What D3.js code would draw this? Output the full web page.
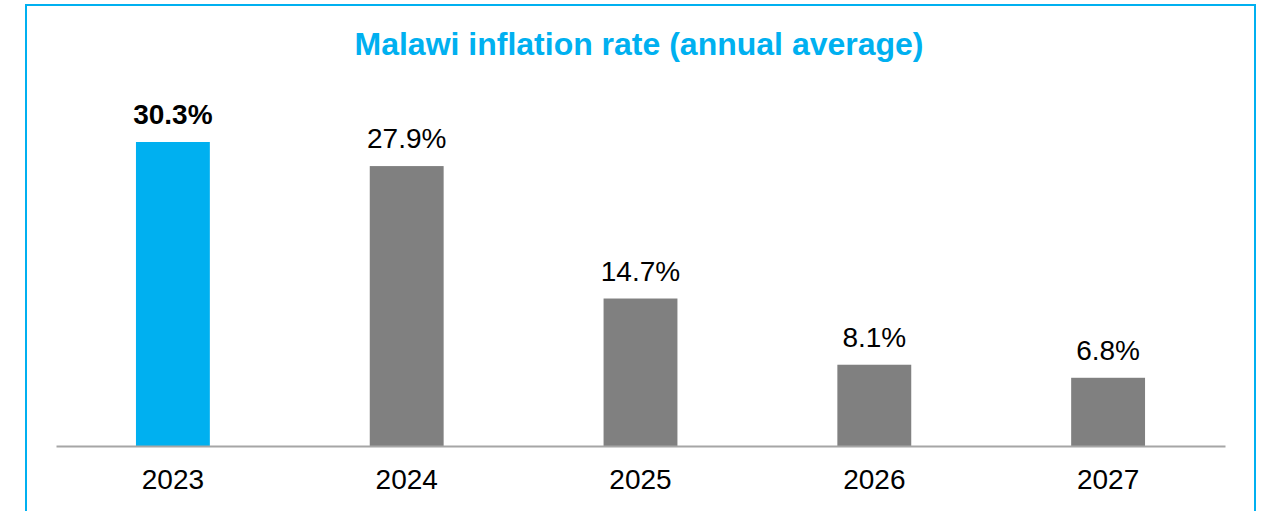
<!DOCTYPE html>
<html>
<head>
<meta charset="utf-8">
<script src="https://cdn.jsdelivr.net/npm/d3@7"></script>
<style>
  body { margin: 0; background: #fff; }
  svg { display: block; font-family: Arial, "Liberation Sans", sans-serif; }
</style>
</head>
<body>
<div id="chart"></div>
<script>
// chart data
var years = ['2023', '2024', '2025', '2026', '2027'];
var rates = [30.3, 27.9, 14.7, 8.1, 6.8];
var highlight = ['2023'];

var width = 1264, height = 511;
var axisY = 446;

var svg = d3.select('#chart').append('svg')
    .attr('width', width)
    .attr('height', height);

// outer frame (runs off the bottom of the picture)
svg.append('rect')
    .attr('x', 26).attr('y', 5)
    .attr('width', 1229).attr('height', 530)
    .attr('fill', 'none')
    .attr('stroke', '#00B0F0')
    .attr('stroke-width', 2);

svg.append('text')
    .attr('x', 639).attr('y', 55)
    .attr('text-anchor', 'middle')
    .attr('fill', '#00B0F0')
    .style('font-size', '32px')
    .style('font-weight', 'bold')
    .text('Malawi inflation rate (annual average)');

var x = d3.scaleBand()
    .domain(years)
    .range([56, 1225])
    .paddingInner(0.684)
    .paddingOuter(0.342);

var y = d3.scaleLinear()
    .domain([0, 30.3])
    .range([axisY, 142]);

var data = years.map(function(d, i) { return {year: d, value: rates[i]}; });

svg.selectAll('rect.bar')
    .data(data)
    .enter().append('rect')
        .attr('class', 'bar')
        .attr('x', function(d) { return x(d.year); })
        .attr('y', function(d) { return y(d.value); })
        .attr('width', x.bandwidth())
        .attr('height', function(d) { return axisY - y(d.value); })
        .attr('fill', function(d) { return highlight.indexOf(d.year) >= 0 ? '#00B0F0' : '#808080'; });

svg.selectAll('text.val')
    .data(data)
    .enter().append('text')
        .attr('class', 'val')
        .attr('x', function(d) { return x(d.year) + x.bandwidth() / 2; })
        .attr('y', function(d) { return y(d.value) - 18; })
        .attr('text-anchor', 'middle')
        .attr('fill', '#000')
        .style('font-size', '28px')
        .style('font-weight', function(d) { return highlight.indexOf(d.year) >= 0 ? 'bold' : 'normal'; })
        .text(function(d) { return d.value.toFixed(1) + '%'; });

// x axis
var xAxis = svg.append('g')
    .attr('transform', 'translate(0,' + axisY + ')')
    .call(d3.axisBottom(x).tickSize(0).tickPadding(0));

xAxis.select('.domain')
    .attr('stroke', '#A6A6A6')
    .attr('stroke-width', 2);

xAxis.selectAll('.tick text')
    .attr('dy', 0)
    .attr('y', 43)
    .attr('fill', '#000')
    .style('font-size', '28px')
    .style('font-family', 'Arial, "Liberation Sans", sans-serif');
</script>
</body>
</html>
